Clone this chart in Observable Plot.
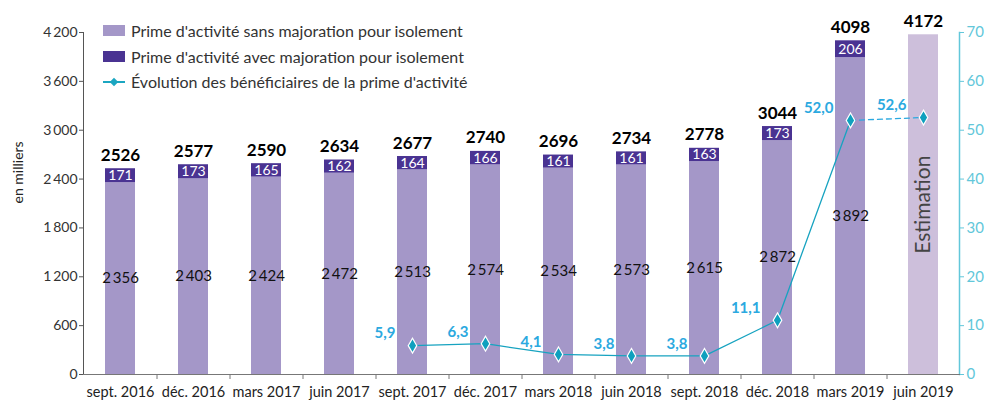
<!DOCTYPE html>
<html><head><meta charset="utf-8">
<script src="https://cdn.jsdelivr.net/npm/d3@7"></script>
<script src="https://cdn.jsdelivr.net/npm/@observablehq/plot@0.6"></script>
<style>
body{margin:0;background:#fff;font-family:Lato, "Open Sans", sans-serif;}
#wrap{position:relative;width:985px;height:401px;overflow:hidden;}
#legend{position:absolute;left:103px;top:18px;font-size:16px;color:#333;font-family:Lato, sans-serif;}
.row{display:flex;align-items:center;height:25.5px;white-space:nowrap;}
.sw{width:22px;height:11px;margin-right:6px;flex:none;}
.ln{width:22px;height:11px;margin-right:6px;position:relative;flex:none;}
.ln:before{content:"";position:absolute;left:0;right:0;top:5px;height:1.5px;background:#1BA6C1;}
.ln:after{content:"";position:absolute;left:7.5px;top:2.5px;width:6px;height:6px;background:#1BA6C1;transform:rotate(45deg);}
</style></head><body>
<div id="wrap"><div id="chart"></div><div id="legend"></div></div>
<script>
const periods = ["sept. 2016","déc. 2016","mars 2017","juin 2017","sept. 2017","déc. 2017","mars 2018","juin 2018","sept. 2018","déc. 2018","mars 2019","juin 2019"];
const sansMajoration = [2356,2403,2424,2472,2513,2574,2534,2573,2615,2872,3892,null];
const avecMajoration = [171,173,165,162,164,166,161,161,163,173,206,null];
const totals = [2526,2577,2590,2634,2677,2740,2696,2734,2778,3044,4098,4172];
const evolution = [null,null,null,null,5.9,6.3,4.1,3.8,3.8,11.1,52.0,52.6];
const estimatedPeriod = "juin 2019";
const estimationLabel = "Estimation";
const seriesNames = ["Prime d'activité sans majoration pour isolement","Prime d'activité avec majoration pour isolement","Évolution des bénéficiaires de la prime d'activité"];
const yLabel = "en milliers";
const leftTicks = [0,600,1200,1800,2400,3000,3600,4200];
const rightTicks = [0,10,20,30,40,50,60,70];

const LIGHT = "#A497C8", DARK = "#4A3392", EST = "#CDBFDB", TEAL = "#17A3C0", BLUE = "#2BA9E0", RAXIS = "#62C7DA";
const W = 985, H = 401, ML = 83, MR = 26, MT = 32, MB = 27;
const ratio = 4200 / 70;
const fr = d3.formatLocale({decimal: ",", thousands: "\u2009", grouping: [3], currency: ["", "€"]});
const fmtSpace = fr.format(",d");
const fmtDec = fr.format(",.1f");

const rows = periods.flatMap((p, i) => sansMajoration[i] == null ? [] : [
  {period: p, serie: "sans", value: sansMajoration[i]},
  {period: p, serie: "avec", value: avecMajoration[i]}
]);
const totalRows = periods.map((p, i) => ({period: p, total: totals[i]}));
const estRows = totalRows.filter(d => d.period === estimatedPeriod);
const evoRows = periods.map((p, i) => ({period: p, evo: evolution[i]})).filter(d => d.evo != null);
const solidRows = evoRows.filter(d => d.period !== estimatedPeriod);
const dashedRows = evoRows.slice(-2);
const step = (W - ML - MR) / periods.length;

const font = "Lato, sans-serif";
const chart = Plot.plot({
  width: W, height: H, marginLeft: ML, marginRight: MR, marginTop: MT, marginBottom: MB,
  style: {fontFamily: font, fontSize: "14px", color: "#333", background: "#fff"},
  x: {domain: periods, paddingInner: 0.59, paddingOuter: 0.295},
  y: {domain: [0, 4200]},
  color: {domain: ["sans", "avec"], range: [LIGHT, DARK]},
  marks: [
    Plot.barY(rows, {x: "period", y: "value", fill: "serie"}),
    Plot.barY(estRows, {x: "period", y: "total", fill: EST}),
    Plot.text(rows, Plot.stackY({x: "period", y: "value", text: d => d.serie === "sans" ? fmtSpace(d.value) : null, fill: "#111", fontSize: 15})),
    Plot.text(rows, Plot.stackY({x: "period", y: "value", text: d => d.serie === "avec" ? String(d.value) : null, fill: "white", fontSize: 14})),
    Plot.text(totalRows, {x: "period", y: "total", text: d => String(d.total), lineAnchor: "bottom", dy: -8, fontWeight: "bold", fontSize: 17, fill: "#000"}),
    Plot.text(estRows, {x: "period", y: d => d.total / 2, text: () => estimationLabel, rotate: -90, fontSize: 21, fill: "#444"}),
    Plot.frame({anchor: "left", stroke: "#555"}),
    Plot.frame({anchor: "right", stroke: RAXIS, strokeWidth: 1.5}),
    Plot.frame({anchor: "bottom", stroke: "#777"}),
    Plot.ruleX(periods.slice(1), {x: d => d, dx: -step / 2, y1: 0, y2: 0, insetBottom: -5, stroke: "#777"}),
    Plot.line(solidRows, {x: "period", y: d => d.evo * ratio, stroke: TEAL, strokeWidth: 1.3}),
    Plot.line(dashedRows, {x: "period", y: d => d.evo * ratio, stroke: BLUE, strokeWidth: 1.3, strokeDasharray: "5,4"}),
    Plot.dot(evoRows, {x: "period", y: d => d.evo * ratio, symbol: "diamond", r: 4.5, fill: "#0FA0BE", stroke: "white", strokeWidth: 1.2}),
    Plot.text(evoRows, {x: "period", y: d => d.evo * ratio, text: d => fmtDec(d.evo), textAnchor: "end", dx: -17, dy: -12, fill: BLUE, fontWeight: "bold", fontSize: 15}),
    Plot.axisX({tickSize: 0, tickPadding: 12, fontSize: 14.5, fill: "#222", label: null}),
    Plot.axisY({ticks: leftTicks, tickFormat: d => fmtSpace(d), tickSize: 4, tickPadding: 2, fontSize: 14, stroke: "#555", fill: "#333", label: null}),
    Plot.axisY({anchor: "right", ticks: rightTicks.map(v => v * ratio), tickFormat: d => String(Math.round(d / ratio)), tickSize: 4, tickPadding: 3, fontSize: 15, stroke: RAXIS, fill: RAXIS, label: null}),
    Plot.text([yLabel], {frameAnchor: "left", text: d => d, rotate: -90, dx: -65, fontSize: 14, fill: "#222"})
  ]
});
document.getElementById("chart").appendChild(chart);

const legend = document.getElementById("legend");
const kinds = ["sw-light", "sw-dark", "line"];
seriesNames.forEach((name, i) => {
  const row = document.createElement("div");
  row.className = "row";
  const sw = document.createElement("div");
  if (kinds[i] === "line") sw.className = "ln";
  else { sw.className = "sw"; sw.style.background = kinds[i] === "sw-light" ? LIGHT : DARK; }
  const t = document.createElement("span");
  t.textContent = name;
  row.appendChild(sw); row.appendChild(t);
  legend.appendChild(row);
});
</script>
</body></html>
